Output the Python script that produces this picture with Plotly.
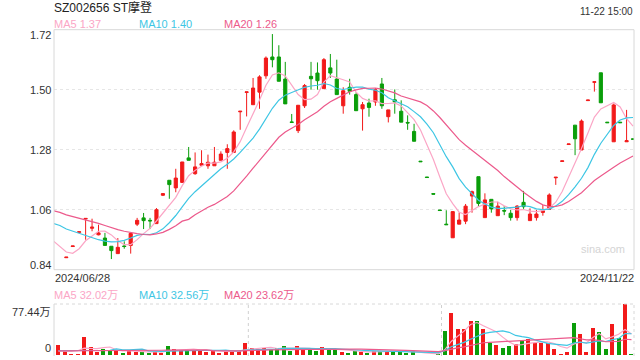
import numpy as np
import pandas as pd
import plotly.graph_objects as go

# ---------------- data ----------------
title_text = "SZ002656 ST摩登"
time_text = "11-22 15:00"
date_labels = ["2024/06/28", "2024/11/22"]

opens = [0.884, 0.925, 0.977, 1.026, 0.992, 0.968, 0.956, 0.926, 0.899, 0.927,
         0.929, 1.007, 1.030, 1.021, 1.009, 1.113, 1.168, 1.140, 1.160, 1.250,
         1.192, 1.223, 1.221, 1.221, 1.241, 1.270, 1.270, 1.419, 1.490, 1.445,
         1.491, 1.551, 1.620, 1.620, 1.539, 1.382, 1.350, 1.441, 1.549, 1.561,
         1.504, 1.580, 1.539, 1.441, 1.509, 1.482, 1.430, 1.451, 1.455, 1.521,
         1.401, 1.463, 1.421, 1.380, 1.347, 1.238, 1.180, 1.119, 1.059, 1.007,
         0.957, 1.007, 1.018, 1.110, 1.181, 1.031, 1.098, 1.038, 1.057, 1.047,
         1.031, 1.087, 1.020, 1.031, 1.050, 1.061, 1.177, 1.237, 1.299, 1.370,
         1.279, 1.460, 1.527, 1.562, 1.381, 1.309, 1.381, 1.309, 1.320]
highs = [0.886, 0.927, 0.979, 1.028, 1.027, 1.005, 0.975, 0.926, 0.956, 0.944,
         0.978, 1.030, 1.048, 1.030, 1.066, 1.121, 1.168, 1.210, 1.235, 1.290,
         1.270, 1.278, 1.262, 1.290, 1.274, 1.300, 1.351, 1.421, 1.492, 1.543,
         1.553, 1.622, 1.704, 1.663, 1.602, 1.411, 1.443, 1.521, 1.602, 1.600,
         1.616, 1.631, 1.610, 1.509, 1.540, 1.490, 1.455, 1.467, 1.506, 1.543,
         1.426, 1.501, 1.461, 1.406, 1.375, 1.238, 1.180, 1.119, 1.059, 1.058,
         1.055, 1.049, 1.081, 1.130, 1.181, 1.120, 1.098, 1.089, 1.073, 1.059,
         1.077, 1.129, 1.065, 1.059, 1.077, 1.120, 1.179, 1.239, 1.301, 1.370,
         1.391, 1.462, 1.529, 1.562, 1.381, 1.449, 1.381, 1.426, 1.320]
lows = [0.884, 0.925, 0.977, 0.950, 0.981, 0.966, 0.929, 0.879, 0.899, 0.917,
        0.899, 1.000, 0.989, 0.989, 1.009, 1.110, 1.100, 1.124, 1.160, 1.241,
        1.188, 1.223, 1.210, 1.221, 1.241, 1.210, 1.270, 1.353, 1.402, 1.445,
        1.430, 1.540, 1.582, 1.531, 1.448, 1.380, 1.341, 1.433, 1.500, 1.500,
        1.504, 1.543, 1.482, 1.412, 1.482, 1.423, 1.350, 1.401, 1.441, 1.430,
        1.380, 1.412, 1.381, 1.353, 1.311, 1.236, 1.178, 1.117, 1.057, 1.005,
        0.957, 1.007, 1.007, 1.049, 1.071, 1.031, 1.049, 1.038, 1.040, 1.020,
        1.020, 1.063, 1.020, 1.020, 1.038, 1.061, 1.151, 1.237, 1.299, 1.260,
        1.279, 1.460, 1.493, 1.452, 1.379, 1.309, 1.379, 1.309, 1.318]
closes = [0.886, 0.927, 0.979, 1.028, 0.996, 0.975, 0.929, 0.910, 0.922, 0.925,
          0.973, 1.021, 1.020, 1.019, 1.060, 1.119, 1.152, 1.176, 1.235, 1.241,
          1.217, 1.229, 1.234, 1.234, 1.264, 1.284, 1.345, 1.421, 1.492, 1.506,
          1.547, 1.616, 1.610, 1.531, 1.448, 1.380, 1.443, 1.515, 1.540, 1.533,
          1.610, 1.561, 1.482, 1.496, 1.494, 1.423, 1.445, 1.435, 1.500, 1.441,
          1.426, 1.455, 1.381, 1.378, 1.311, 1.236, 1.178, 1.117, 1.057, 1.005,
          1.053, 1.022, 1.073, 1.126, 1.083, 1.096, 1.063, 1.073, 1.055, 1.031,
          1.073, 1.071, 1.044, 1.044, 1.056, 1.114, 1.179, 1.239, 1.301, 1.320,
          1.385, 1.462, 1.529, 1.452, 1.379, 1.444, 1.379, 1.313, 1.318]

# moving-average values before enough closes exist, index -2 ..
ma5_head = [0.945, 0.926, 0.905, 0.900, 0.917, 0.946]
ma10_head = [1.010, 1.002, 0.989, 0.981, 0.973, 0.964, 0.956, 0.950, 0.945, 0.942, 0.943]
ma20_head = [1.056, 1.050, 1.041, 1.035, 1.027, 1.021, 1.015, 1.010, 1.002, 0.994,
             0.987, 0.981, 0.976, 0.972, 0.969, 0.968, 0.971, 0.977, 0.988, 1.001, 1.018]

# volume (万), day index -1 .. 88
volumes = [15.2, 6.1, 1.5, 1.5, 27.8, 12.7, 5.1, 9.1, 6.1, 6.6,
           3.5, 6.1, 5.1, 5.6, 3.5, 5.6, 2.5, 13.7, 9.1, 7.6,
           7.6, 7.6, 6.6, 5.1, 6.6, 3.5, 6.1, 5.1, 6.1, 18.7,
           10.1, 9.1, 11.1, 9.1, 10.1, 13.7, 6.6, 13.7, 8.6, 8.6,
           6.1, 12.7, 7.6, 8.6, 5.1, 3.5, 6.1, 5.1, 3.5, 6.1,
           6.1, 5.1, 6.1, 6.1, 3.5, 5.6, 0.5, 0.5, 0.5, 1.5,
           36.4, 64.3, 39.5, 39.5, 51.6, 51.6, 39.5, 18.7, 15.2, 10.6,
           14.2, 16.7, 21.8, 24.3, 17.7, 18.7, 17.7, 9.1, 1.5, 5.1,
           49.1, 31.9, 5.1, 41.0, 35.4, 9.1, 47.1, 25.3, 77.44, 1.2]
vma5_head = [6.0, 5.5, 5.5, 6.5]
vma10_head = [6.5, 6.5, 6.4, 6.3, 6.3, 6.5, 6.8, 7.0, 7.2]
vma20_head = [6.2, 6.2, 6.1, 6.1, 6.2, 6.3, 6.4, 6.5, 6.5, 6.6,
              6.6, 6.7, 6.8, 6.9, 7.0, 7.1, 7.2, 7.4, 7.5]

price_ticks = [0.84, 1.06, 1.28, 1.50, 1.72]
vol_max = 77.44
legend_price = ["MA5 1.37", "MA10 1.40", "MA20 1.26"]
legend_vol = ["MA5 32.02万", "MA10 32.56万", "MA20 23.62万"]
vol_tick_labels = ["77.44万", "0"]

# ---------------- styles ----------------
W, H = 640, 360
RED, GREEN = "#f21a1a", "#0a9e0a"
C5, C10, C20 = "#fba6c6", "#3ec6e4", "#ec5a8c"
FONT = "Liberation Sans, Arial, Noto Sans CJK SC, sans-serif"
L, R, PT, PB = 54, 634, 29.7, 269.7
VT, VB = 304, 355

def px(x):
    return x / W

def py(y):
    return 1 - y / H

n = len(closes)
idx = np.arange(n)
cs = pd.Series(closes)

def build_ma(series, head, win, start_x):
    calc = series.rolling(win).mean().to_numpy()
    vals = list(head) + list(calc[win - 1:])
    xs = list(range(start_x, start_x + len(vals)))
    return xs, vals

ma_sets = [build_ma(cs, ma5_head, 5, -2), build_ma(cs, ma10_head, 10, -2),
           build_ma(cs, ma20_head, 20, -2)]

vs = pd.Series(volumes)
vol_x = list(range(-1, -1 + len(volumes)))
vma_sets = [build_ma(vs, vma5_head, 5, -1), build_ma(vs, vma10_head, 10, -1),
            build_ma(vs, vma20_head, 20, -1)]

o = np.array(opens); c = np.array(closes)
up = c > o

fig = go.Figure()
for mask, col in [(up, RED), (~up, GREEN)]:
    fig.add_trace(go.Candlestick(
        x=idx[mask], open=o[mask], high=np.array(highs)[mask], low=np.array(lows)[mask],
        close=c[mask],
        increasing=dict(line=dict(color=col, width=1), fillcolor=col),
        decreasing=dict(line=dict(color=col, width=1), fillcolor=col),
        whiskerwidth=0, hoverinfo="skip", showlegend=False, xaxis="x", yaxis="y"))

for (xs, vals), col in zip(ma_sets, [C5, C10, C20]):
    fig.add_trace(go.Scatter(x=xs, y=vals, mode="lines", line=dict(color=col, width=1.2),
                             hoverinfo="skip", showlegend=False, xaxis="x", yaxis="y"))

vcols = []
for xv in vol_x:
    if xv < 0:
        vcols.append(RED)
    else:
        vcols.append(RED if closes[xv] > opens[xv] else GREEN)
fig.add_trace(go.Bar(x=vol_x, y=volumes, marker=dict(color=vcols, line=dict(width=0)),
                     width=0.62, hoverinfo="skip", showlegend=False, xaxis="x2", yaxis="y2"))
for (xs, vals), col in zip(vma_sets, [C5, C10, C20]):
    fig.add_trace(go.Scatter(x=xs, y=vals, mode="lines", line=dict(color=col, width=1.2),
                             hoverinfo="skip", showlegend=False, xaxis="x2", yaxis="y2"))

ann = []
def text(x, y, s, color="#333", size=11, xanchor="left", **kw):
    ann.append(dict(x=px(x), y=py(y), xref="paper", yref="paper", text=s, showarrow=False,
                    xanchor=xanchor, yanchor="middle", font=dict(family=FONT, size=size, color=color),
                    borderpad=0, **kw))

text(53, 7, title_text, "#222", 12)
text(634, 11, time_text, "#333", 10, xanchor="right")
for s, xx, col in zip(legend_price, [53, 138, 223], [C5, C10, C20]):
    text(xx, 24, s, col, 11)
for v in price_ticks:
    shift = 5 if v == price_ticks[0] else (-5 if v == price_ticks[-1] else 0)
    ann.append(dict(x=px(52), xref="paper", y=v, yref="y", text=f"{v:.2f}", showarrow=False,
                    xanchor="right", yanchor="middle", yshift=shift, borderpad=0,
                    font=dict(family=FONT, size=11, color="#333")))
text(54, 278, date_labels[0], "#333", 11)
text(635, 278, date_labels[1], "#333", 11, xanchor="right")
for s, xx, col in zip(legend_vol, [53, 138, 223], [C5, C10, C20]):
    text(xx, 295, s, col, 11)
text(52, 312, vol_tick_labels[0], "#333", 11, xanchor="right")
text(52, 348, vol_tick_labels[1], "#333", 11, xanchor="right")
text(603, 249, "sina.com", "#d4d4d4", 11, xanchor="center")

shapes = [
    dict(type="rect", xref="paper", yref="paper", x0=px(L), x1=px(R), y0=py(PB), y1=py(PT),
         line=dict(color="#d8d8d8", width=1), layer="above"),
    dict(type="line", xref="paper", yref="paper", x0=px(L), x1=px(L), y0=py(VB + 1), y1=py(VT),
         line=dict(color="#d8d8d8", width=1)),
    dict(type="line", xref="paper", yref="paper", x0=px(L), x1=px(R), y0=py(VT), y1=py(VT),
         line=dict(color="#d8d8d8", width=1, dash="dot")),
    dict(type="line", xref="paper", yref="paper", x0=px(R), x1=px(R), y0=py(VB + 1), y1=py(VT),
         line=dict(color="#d8d8d8", width=1, dash="dot")),
]
for xv in [28.5, 58.5]:
    shapes.append(dict(type="line", xref="x2", yref="paper", x0=xv, x1=xv, y0=py(VB + 1), y1=py(VT),
                       line=dict(color="#d0d0d0", width=1, dash="dot"), layer="below"))

fig.update_layout(
    width=W, height=H, margin=dict(l=0, r=0, t=0, b=0),
    paper_bgcolor="white", plot_bgcolor="white", showlegend=False,
    boxgap=0.3, bargap=0,
    xaxis=dict(domain=[px(L), px(R)], range=[-1.91, 88.15], visible=False,
               rangeslider=dict(visible=False), anchor="y"),
    yaxis=dict(domain=[py(PB), py(PT)], range=[0.84, 1.72], tickvals=price_ticks[1:-1],
               showticklabels=False, showgrid=True, gridcolor="#e6e6e6", griddash="dot",
               gridwidth=1, zeroline=False, showline=False, anchor="x"),
    xaxis2=dict(domain=[px(L), px(R)], range=[-1.68, 88.39], visible=False, anchor="y2"),
    yaxis2=dict(domain=[py(VB), py(VT)], range=[0, vol_max], visible=False, anchor="x2"),
    annotations=ann, shapes=shapes,
)
fig.write_html("out.html", config={"displayModeBar": False, "staticPlot": True},
               post_script="document.body.style.margin='0';document.body.style.overflow='hidden';")
